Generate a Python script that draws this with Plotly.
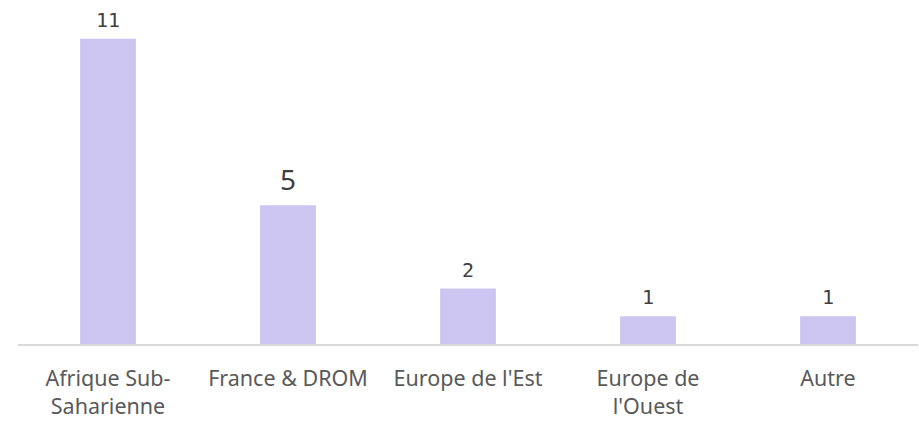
import plotly.graph_objects as go

categories = ["Afrique Sub-<br>Saharienne", "France & DROM", "Europe de l'Est", "Europe de<br>l'Ouest", "Autre"]
values = [11, 5, 2, 1, 1]
label_fonts = ["DejaVu Sans Mono", "Noto Sans", "DejaVu Sans Mono", "DejaVu Sans Mono", "DejaVu Sans Mono"]
label_sizes = [20, 28, 20, 20, 20]

fig = go.Figure()
fig.add_trace(go.Bar(x=categories, y=values, marker_color="#cdc5f1", marker_line_width=0,
                     hoverinfo="skip"))

for c, v, f, s in zip(categories, values, label_fonts, label_sizes):
    fig.add_annotation(x=c, y=v, text=str(v), showarrow=False, yanchor="bottom",
                       yshift=5, font=dict(family=f, size=s, color="#404040"))

fig.update_layout(
    width=919, height=422,
    margin=dict(l=18, r=1, t=0, b=78),
    plot_bgcolor="white", paper_bgcolor="white",
    bargap=0.69, showlegend=False,
    xaxis=dict(showline=True, linecolor="#d9d9d9", linewidth=2, ticks="",
               tickfont=dict(family="Noto Sans", size=21.5, color="#595959"),
               ticklabelstandoff=14,
               showgrid=False, automargin=False),
    yaxis=dict(range=[0, 12.4], visible=False, showgrid=False),
)
fig.write_html("out.html", config={"displayModeBar": False},
               post_script="document.body.style.margin='0';")
